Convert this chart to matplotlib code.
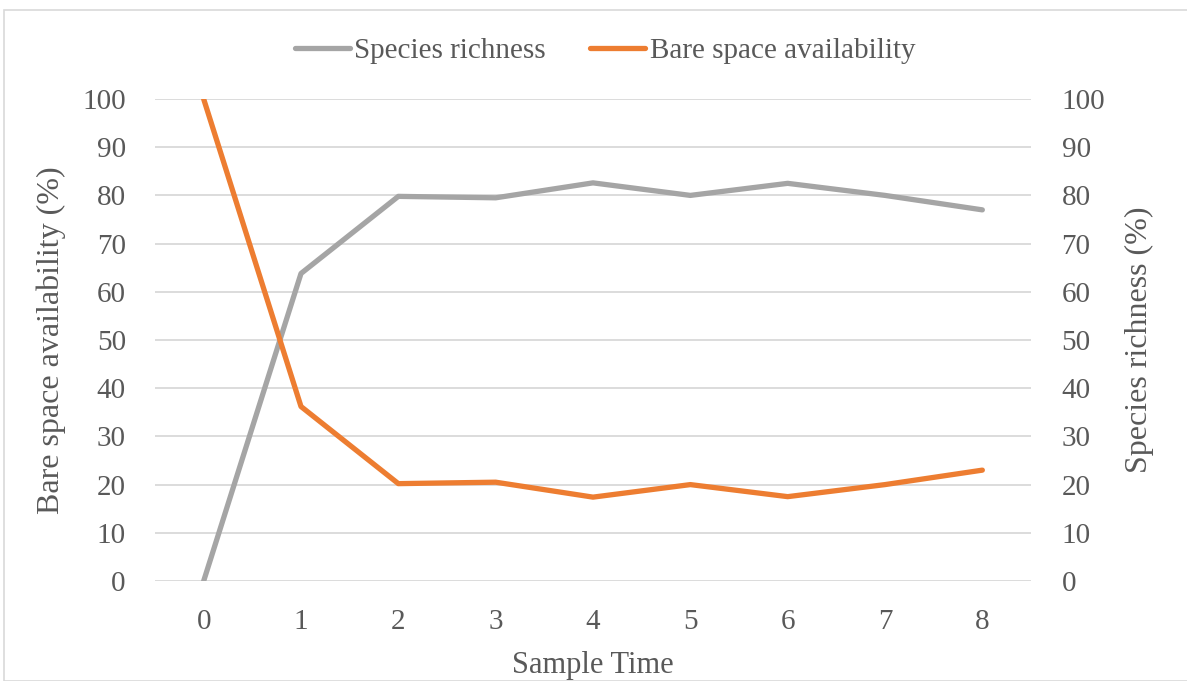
import matplotlib
matplotlib.use("Agg")
import matplotlib.pyplot as plt
from matplotlib.patches import Rectangle

# Data
sample_time = [0, 1, 2, 3, 4, 5, 6, 7, 8]
species_richness = [0, 63.8, 79.8, 79.5, 82.6, 80.0, 82.5, 80.0, 77.0]
bare_space = [100, 36.2, 20.2, 20.5, 17.4, 20.0, 17.5, 20.0, 23.0]
y_ticks = list(range(0, 101, 10))

plt.rcParams['font.family'] = ['Liberation Serif', 'DejaVu Serif']
TEXT = '#595959'
GRID = '#D9D9D9'
GRAY = '#A5A5A5'
ORANGE = '#ED7D31'

W, H = 1187, 681
fig = plt.figure(figsize=(W / 100, H / 100), dpi=100)

# Chart-area border
fig.patches.append(Rectangle((4 / W, 0), 1.2, 1 - 10 / H, transform=fig.transFigure,
                             fill=False, edgecolor='#D9D9D9', linewidth=1.2))

left, right, top, bottom = 155, 1031, 99, 581
ax = fig.add_axes([left / W, 1 - bottom / H, (right - left) / W, (bottom - top) / H])
ax2 = ax.twinx()

ax.set_ylim(0, 100)
ax2.set_ylim(0, 100)
ax.set_xlim(-0.5, 8.5)
ax.set_yticks(y_ticks)
ax2.set_yticks(y_ticks)
ax.set_xticks(sample_time)

ax.grid(axis='y', color=GRID, linewidth=1.3)
ax.set_axisbelow(True)
for a in (ax, ax2):
    for s in a.spines.values():
        s.set_visible(False)
    a.tick_params(length=0, labelsize=21, labelcolor=TEXT)
ax.tick_params(axis='y', pad=21)
ax2.tick_params(axis='y', pad=22)
ax.tick_params(axis='x', pad=20)

l1, = ax2.plot(sample_time, species_richness, color=GRAY, linewidth=3.8,
               solid_capstyle='round', solid_joinstyle='round', label='Species richness')
l2, = ax2.plot(sample_time, bare_space, color=ORANGE, linewidth=3.8,
               solid_capstyle='round', solid_joinstyle='round', label='Bare space availability')

ax.set_ylabel('Bare space availability (%)', fontsize=23, color=TEXT, labelpad=12)
ax2.set_ylabel('Species richness (%)', fontsize=23, color=TEXT, labelpad=14)
ax.set_xlabel('Sample Time', fontsize=22, color=TEXT, labelpad=12)

fig.legend(handles=[l1, l2], loc='center', bbox_to_anchor=(605 / W, 1 - 51 / H),
           ncol=2, frameon=False, fontsize=21, labelcolor=TEXT,
           handlelength=1.9, handletextpad=0.15, columnspacing=1.5)

fig.savefig('out.png', dpi=100)
